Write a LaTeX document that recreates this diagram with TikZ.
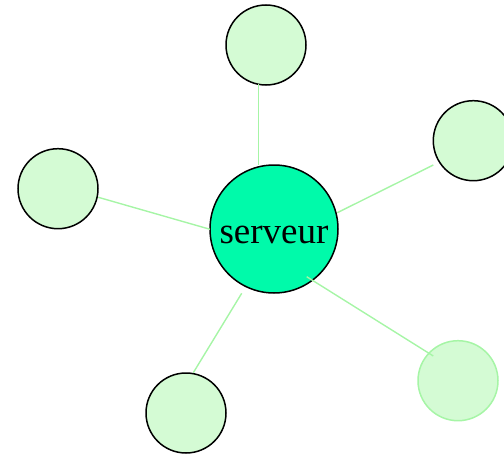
\documentclass[tikz,border=0pt]{standalone}
\usepackage{fontspec}
\setmainfont{Liberation Serif}
\usetikzlibrary{calc}
\definecolor{linkgreen}{HTML}{A6F5A6}
\definecolor{leaffill}{HTML}{D4FBD4}
\definecolor{hubfill}{HTML}{00FAAA}
\tikzset{
  leaf/.style={circle, draw=black, line width=1.5pt, fill=leaffill, minimum size=80pt, inner sep=0pt},
  faded/.style={leaf, draw=linkgreen},
  hub/.style={circle, draw=black, line width=1.5pt, fill=hubfill, minimum size=128pt, inner sep=0pt},
  link/.style={draw=linkgreen, line width=1.4pt},
}
\begin{document}
\begin{tikzpicture}[x=1pt, y=-1pt]
  \useasboundingbox (0,0) rectangle (504,455);
  \clip (0,0) rectangle (504,455);
  % hub and leaves
  \node[hub] (srv) at (274,229) {};
  \node[anchor=base, inner sep=0pt, font=\fontsize{37}{40}\selectfont] (srvlabel) at (274,243.3) {serveur};
  \node[leaf] (n1) at (266,45) {};
  \node[leaf] (n2) at (473.3,140.7) {};
  \node[leaf] (n3) at (58,188.7) {};
  \node[leaf] (n4) at (186,413) {};
  \node[faded] (n5) at (458,380.7) {};
  % links
  \draw[link] ($(n1)+(-7.7,39)$) -- ($(srv)+(-15.7,-64)$);
  \draw[link] ($(n2)+(-40,24.3)$) -- ($(srv)+(63.3,-16.3)$);
  \draw[link] ($(n3)+(40.3,8.6)$) -- ($(srv)+(-64,0.3)$);
  \draw[link] ($(n4)+(7.3,-40.3)$) -- ($(srv)+(-32.3,64.3)$);
  \draw[link] ($(srv)+(32.7,47.7)$) -- ($(n5)+(-24.7,-24.7)$);
\end{tikzpicture}
\end{document}
